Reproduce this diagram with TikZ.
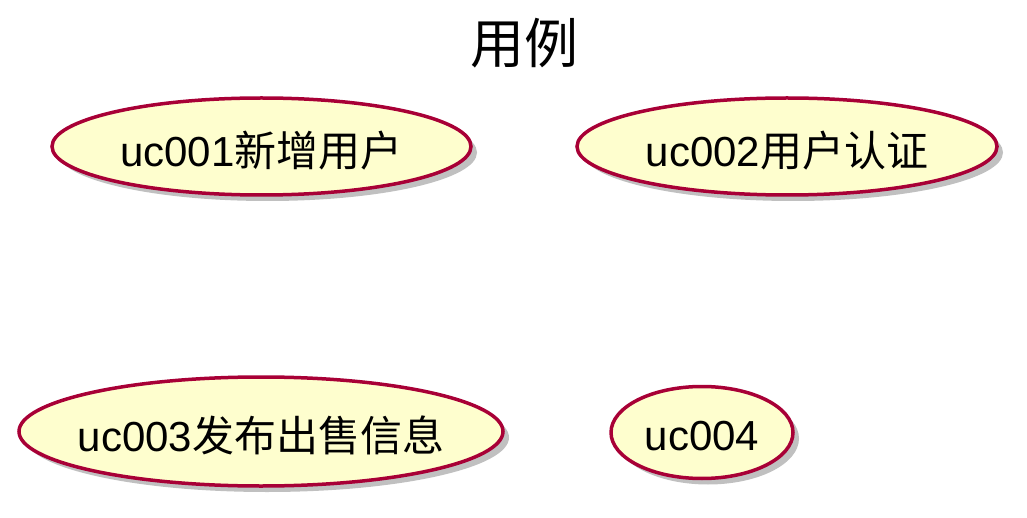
\documentclass[tikz,border=0pt]{standalone}
\usepackage{fontspec}
\setmainfont{Liberation Sans}
\newfontfamily\cjk{Noto Sans CJK SC}
\usetikzlibrary{shapes.geometric,shadows}
\definecolor{ucfill}{HTML}{FEFECE}
\definecolor{ucline}{HTML}{A80036}

\begin{document}
\begin{tikzpicture}[x=1pt,y=-1pt,
	usecase/.style={ellipse,draw=ucline,fill=ucfill,line width=3.5pt,inner sep=0pt,outer sep=0pt,
		label={[font=\fontsize{42}{46}\selectfont,yshift=-4pt]center:#1},
		drop shadow={shadow xshift=6pt,shadow yshift=-6pt,fill=black!45,opacity=.55}}]
	%fixes the margins
	\useasboundingbox (0,0) rectangle (1027,518);
	
	%the title
	\node (title) at (524,43) {\fontsize{54}{58}\selectfont\cjk 用例};
	
	%the first row of use cases
	\node[usecase={uc001{\cjk 新增用户}},minimum width=419pt,minimum height=97pt] (uc1) at (261.5,146.5) {};
	\node[usecase={uc002{\cjk 用户认证}},minimum width=420pt,minimum height=97pt] (uc2) at (787,146.5) {};
	
	%the second row of use cases
	\node[usecase={uc003{\cjk 发布出售信息}},minimum width=484pt,minimum height=109pt] (uc3) at (261,431.5) {};
	\node[usecase={uc004},minimum width=182pt,minimum height=92pt] (uc4) at (702,432.5) {};
\end{tikzpicture}
\end{document}
